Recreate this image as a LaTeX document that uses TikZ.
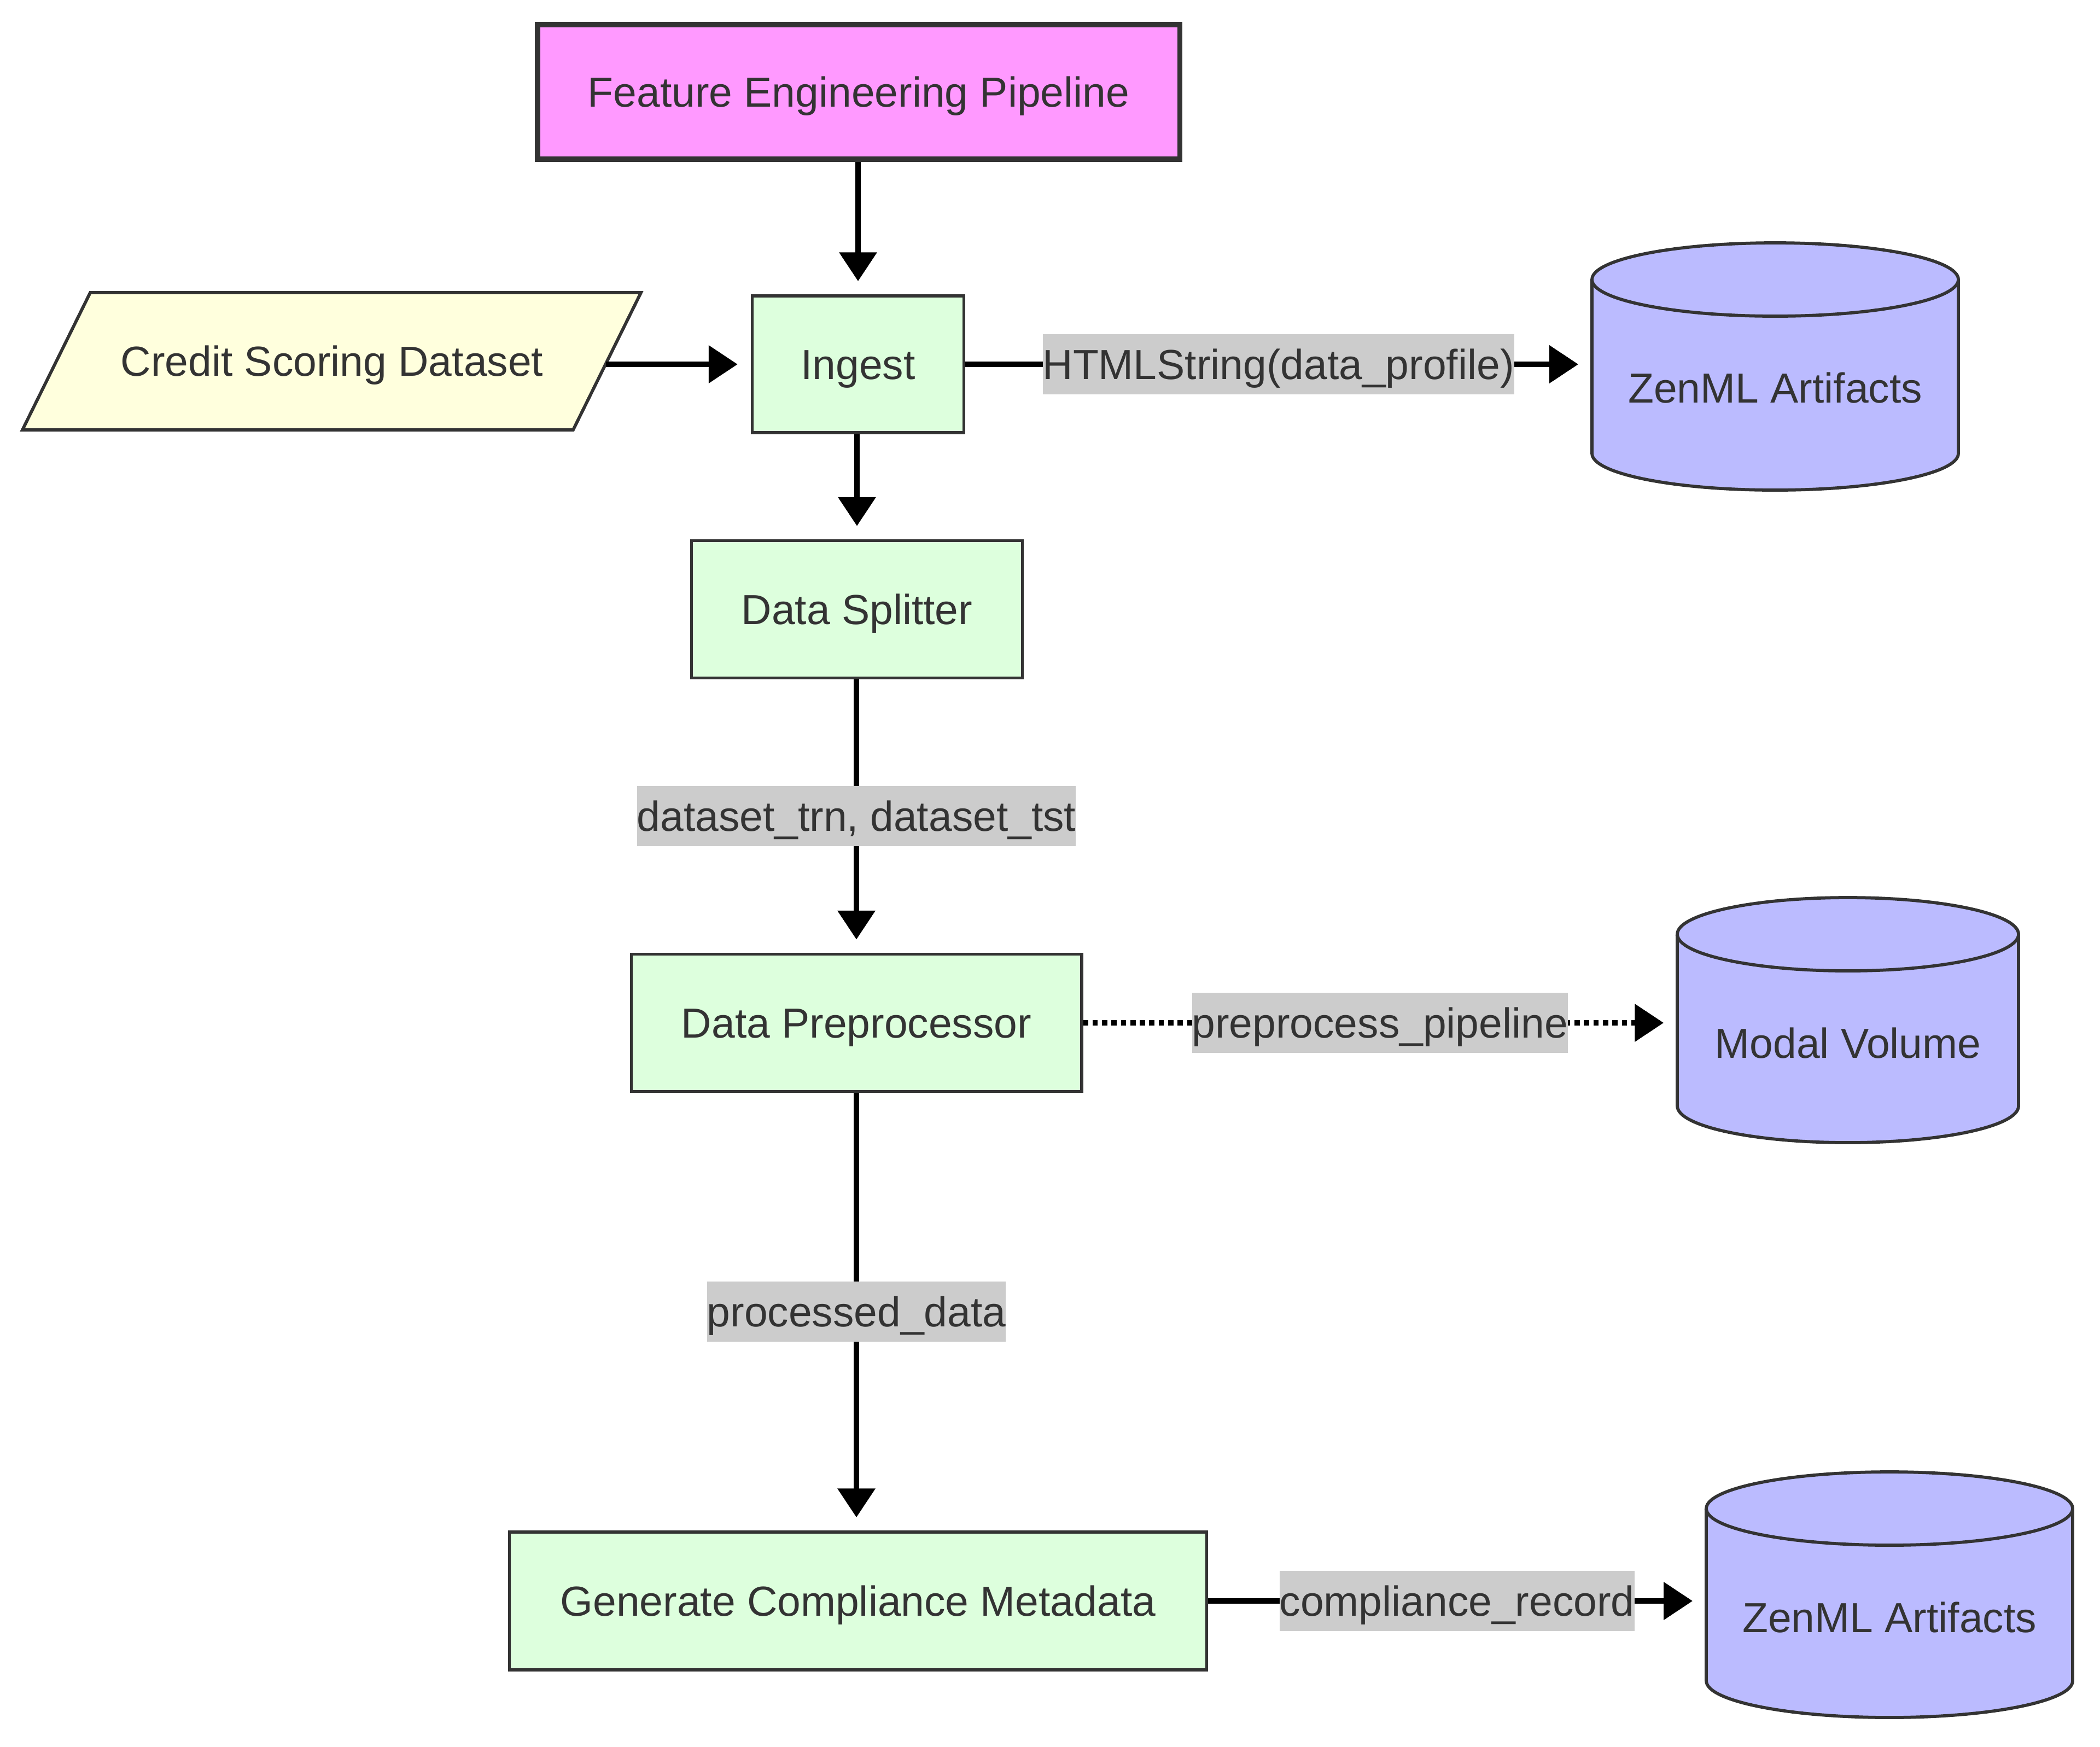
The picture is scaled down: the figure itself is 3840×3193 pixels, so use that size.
\documentclass[tikz,border=0pt]{standalone}
\usepackage{fontspec}
\setmainfont{Liberation Sans}
\usetikzlibrary{arrows.meta}
\definecolor{ink}{HTML}{333333}
\definecolor{pinkfill}{HTML}{FF99FF}
\definecolor{greenfill}{HTML}{DDFFDD}
\definecolor{yellowfill}{HTML}{FFFFDD}
\definecolor{bluefill}{HTML}{BBBBFF}
\definecolor{lblgray}{HTML}{CCCCCC}
\tikzset{
  every node/.style={text=ink, font=\fontsize{16}{19}\selectfont, text height=11.46pt, text depth=0pt, inner sep=0pt},
  stepbox/.style={draw=ink, line width=1.2pt, fill=greenfill, rectangle},
  mainbox/.style={draw=ink, line width=2pt, fill=pinkfill, rectangle},
  flow/.style={draw=black, line width=2pt, -{Triangle[length=11pt,width=14pt]}, shorten >=5pt},
  dotflow/.style={flow, dash pattern=on 2pt off 1.6pt},
  elabel/.style={fill=lblgray, minimum height=22.9pt, inner xsep=0pt},
  cylshape/.style={draw=ink, line width=1.2pt, fill=bluefill},
  inshape/.style={draw=ink, line width=1.2pt, fill=yellowfill},
  ghost/.style={draw=none, fill=none, rectangle}
}
\begin{document}
\begin{tikzpicture}[x=0.208333pt, y=-0.208333pt]
\useasboundingbox (0,0) rectangle (3840,3193);
\fill[white] (0,0) rectangle (3840,3193);

% main box
\node[mainbox, minimum width=244.7pt, minimum height=51.3pt] (feat) at (1570,168) {Feature Engineering Pipeline};

% input parallelogram
\path[inshape] (165,535) -- (1172,535) -- (1048,786) -- (41,786) -- cycle;
\node[ghost, minimum width=208.3pt, minimum height=52.9pt] (cred) at (607,660) {Credit Scoring Dataset};

% steps
\node[stepbox, minimum width=80.6pt, minimum height=52.1pt] (ingest) at (1569,666) {Ingest};
\node[stepbox, minimum width=126pt, minimum height=52.3pt] (split) at (1567,1114) {Data Splitter};
\node[stepbox, minimum width=171.5pt, minimum height=52.3pt] (prep) at (1566,1870) {Data Preprocessor};
\node[stepbox, minimum width=265.6pt, minimum height=52.5pt] (gen) at (1569,2927) {Generate Compliance Metadata};

% cylinder 1
\path[cylshape] (2911,511) -- (2911,829) arc[start angle=180, end angle=360, x radius=69.79pt, y radius=13.96pt]
  -- (3581,511) arc[start angle=0, end angle=180, x radius=69.79pt, y radius=13.96pt] -- cycle;
\draw[draw=ink, line width=1.2pt] (2911,511) arc[start angle=180, end angle=360, x radius=69.79pt, y radius=13.96pt];
\node[ghost, minimum width=139.6pt, minimum height=94pt] (z1) at (3246,670) {};
\node (z1t) at (3246,709) {ZenML Artifacts};

% cylinder 2
\path[cylshape] (3067,1708) -- (3067,2022) arc[start angle=180, end angle=360, x radius=65pt, y radius=13.96pt]
  -- (3691,1708) arc[start angle=0, end angle=180, x radius=65pt, y radius=13.96pt] -- cycle;
\draw[draw=ink, line width=1.2pt] (3067,1708) arc[start angle=180, end angle=360, x radius=65pt, y radius=13.96pt];
\node[ghost, minimum width=130pt, minimum height=93pt] (z2) at (3379,1865) {};
\node (z2t) at (3379,1907) {Modal Volume};

% cylinder 3
\path[cylshape] (3120,2758) -- (3120,3073) arc[start angle=180, end angle=360, x radius=69.79pt, y radius=13.96pt]
  -- (3790,2758) arc[start angle=0, end angle=180, x radius=69.79pt, y radius=13.96pt] -- cycle;
\draw[draw=ink, line width=1.2pt] (3120,2758) arc[start angle=180, end angle=360, x radius=69.79pt, y radius=13.96pt];
\node[ghost, minimum width=139.6pt, minimum height=94pt] (z3) at (3455,2915) {};
\node (z3t) at (3455,2957) {ZenML Artifacts};

% connectors
\draw[flow] (feat.south -| ingest.north) -- (ingest.north);
\draw[flow] (cred.east |- ingest.west) -- (ingest.west);
\draw[flow] (ingest.east) -- node[elabel]{HTMLString(data\_profile)} (ingest.east -| z1.west);
\draw[flow] (ingest.south -| split.north) -- (split.north);
\draw[flow] (split.south -| prep.north) -- node[elabel]{dataset\_trn, dataset\_tst} (prep.north);
\draw[dotflow] (prep.east) -- node[elabel]{preprocess\_pipeline} (prep.east -| z2.west);
\draw[flow] (prep.south) -- node[elabel]{processed\_data} (prep.south |- gen.north);
\draw[flow] (gen.east) -- node[elabel]{compliance\_record} (gen.east -| z3.west);
\end{tikzpicture}
\end{document}
